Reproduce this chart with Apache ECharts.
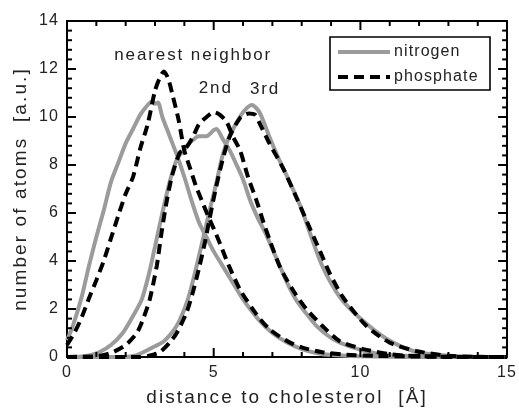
<!DOCTYPE html>
<html><head><meta charset="utf-8">
<script src="https://cdn.jsdelivr.net/npm/echarts@6/dist/echarts.min.js"></script>
<style>html,body{margin:0;padding:0;background:#fff}#c{width:519px;height:412px}</style>
</head><body><div id="c"></div>
<script>
// ---- data ----
const xRange = [0, 15];
const yRange = [0, 14];
const xMajorStep = 5, xMinorStep = 1;
const yMajorStep = 2, yMinorStep = 0.4;
const nitrogenNearest = [[0,0.7],[0.2,1.3],[0.5,2.5],[0.75,3.8],[1.0,5.0],[1.25,6.1],[1.5,7.3],[1.75,8.1],[2.0,8.9],[2.25,9.5],[2.5,10.1],[2.75,10.5],[2.9,10.65],[3.0,10.55],[3.1,10.6],[3.25,10.0],[3.5,9.2],[3.75,8.4],[4.0,7.5],[4.25,6.5],[4.5,5.6],[4.75,5.0],[5.0,4.4],[5.25,3.9],[5.5,3.4],[5.75,2.9],[6.0,2.4],[6.5,1.6],[7.0,1.0],[7.5,0.6],[8.0,0.33],[8.5,0.17],[9.0,0.08],[10.0,0.03],[11.0,0.01],[12,0],[15,0]];
const nitrogenSecond = [[0,0],[0.5,0.02],[0.8,0.08],[1.1,0.2],[1.5,0.5],[1.9,1.0],[2.2,1.6],[2.55,2.4],[2.8,3.5],[3.0,4.6],[3.25,6.0],[3.5,7.3],[3.75,8.25],[4.0,8.65],[4.25,9.0],[4.5,9.2],[4.75,9.2],[5.0,9.45],[5.1,9.5],[5.3,9.1],[5.55,8.6],[5.8,7.95],[6.0,7.4],[6.25,6.5],[6.5,5.8],[6.75,5.2],[7.0,4.5],[7.25,3.8],[7.5,3.1],[7.8,2.4],[8.1,1.9],[8.5,1.3],[9.0,0.8],[9.5,0.5],[10.0,0.3],[10.5,0.16],[11.0,0.08],[12.0,0.02],[13,0],[15,0]];
const nitrogenThird = [[0,0],[2.0,0],[2.3,0.05],[2.6,0.2],[3.0,0.45],[3.3,0.65],[3.74,1.3],[4.12,2.4],[4.42,3.8],[4.65,5.0],[4.9,6.3],[5.1,7.3],[5.3,8.4],[5.5,9.1],[5.75,9.7],[6.0,10.2],[6.3,10.5],[6.56,10.2],[6.9,9.17],[7.24,8.2],[7.6,7.26],[8.0,6.15],[8.27,5.2],[8.7,3.8],[9.3,2.5],[10.0,1.6],[10.9,0.75],[11.8,0.25],[12.5,0.1],[13.5,0.02],[14.5,0],[15,0]];
const phosphateNearest = [[0,0.5],[0.25,1.0],[0.5,1.65],[0.75,2.45],[1.0,3.2],[1.25,4.0],[1.5,4.95],[1.75,5.9],[2.0,6.8],[2.25,7.5],[2.5,8.7],[2.75,9.7],[3.0,11.1],[3.15,11.6],[3.3,11.9],[3.45,11.6],[3.6,10.9],[3.8,9.9],[4.0,8.6],[4.2,7.85],[4.4,7.1],[4.6,6.5],[4.8,5.9],[5.0,5.35],[5.2,4.77],[5.5,3.85],[5.9,2.8],[6.3,2.05],[6.6,1.55],[6.9,1.16],[7.25,0.85],[7.6,0.6],[8.0,0.4],[8.7,0.2],[9.5,0.1],[10.5,0.05],[12,0.02],[13,0],[15,0]];
const phosphateSecond = [[0,0],[1.0,0.03],[1.3,0.1],[1.57,0.2],[2.0,0.5],[2.38,1.0],[2.6,1.6],[2.82,2.4],[3.06,3.8],[3.2,5.0],[3.37,6.3],[3.57,7.5],[3.84,8.5],[4.05,8.7],[4.29,9.17],[4.5,9.7],[4.76,10.0],[5.0,10.2],[5.2,10.1],[5.44,9.8],[5.65,9.2],[5.9,8.6],[6.17,7.5],[6.45,6.55],[6.7,5.6],[6.9,4.9],[7.24,3.8],[7.5,3.2],[7.8,2.6],[8.16,2.0],[8.7,1.3],[9.3,0.66],[10.1,0.33],[11.0,0.12],[11.5,0.06],[12.5,0.02],[13.5,0],[15,0]];
const phosphateThird = [[0,0],[2.5,0],[2.8,0.05],[3.16,0.2],[3.5,0.6],[3.74,1.0],[4.08,1.87],[4.29,2.7],[4.52,3.8],[4.7,4.77],[4.85,5.7],[5.05,6.9],[5.3,8.2],[5.54,9.17],[5.9,9.96],[6.2,10.15],[6.4,10.1],[6.56,9.75],[6.9,8.9],[7.35,7.9],[7.8,6.7],[8.3,5.3],[8.7,4.2],[8.95,3.5],[9.4,2.5],[10.2,1.3],[11.0,0.6],[11.9,0.25],[13.0,0.05],[14.0,0.01],[15,0]];
const annotations = [
  {text: 'nearest neighbor', x: 4.3, y: 12.55},
  {text: '2nd', x: 5.07, y: 11.2},
  {text: '3rd', x: 6.75, y: 11.15}
];
const legendNames = ['nitrogen', 'phosphate'];
const xName = 'distance to cholesterol  [Å]';
const yName = 'number of atoms  [a.u.]';

// wide letter spacing like the reference typography (depends on font size)
(function(){
  const proto = CanvasRenderingContext2D.prototype;
  const orig = proto.fillText;
  const spacing = {15: '0.8px', 16: '1.1px', 17: '1.9px', 19: '2.1px'};
  proto.fillText = function(t, x, y, m){
    if ('letterSpacing' in this) {
      const mm = /(\d+)px/.exec(this.font || '');
      this.letterSpacing = (mm && spacing[mm[1]]) || '0px';
    }
    return m === undefined ? orig.call(this, t, x, y) : orig.call(this, t, x, y, m);
  };
})();

const FONT = 'Liberation Sans, Arial, sans-serif';
const TXT = '#222';
const GRAY = '#9b9b9b';
const LW = 4;
const DASH = [10, 6];

function axisCommon(show){
  return {
    type: 'value',
    axisLine: {show: true, onZero: false, lineStyle: {color: '#000', width: 2}},
    axisTick: {show: false},
    minorTick: {show: false},
    splitLine: {show: false},
    axisLabel: {show: show, color: TXT, fontSize: 16, fontFamily: FONT, margin: 8}
  };
}

const chart = echarts.init(document.getElementById('c'), null, {renderer: 'canvas'});
function lineSeries(name, data, dashed){
  return {
    name: name, type: 'line', data: data, showSymbol: false, symbol: 'none', smooth: 0.25,
    animation: false, z: dashed ? 3 : 2,
    lineStyle: dashed ? {color: '#000', width: LW, type: DASH, cap: 'butt'} : {color: GRAY, width: LW}
  };
}
const option = {
  animation: false,
  backgroundColor: '#fff',
  grid: {left: 67, right: 11, top: 21, bottom: 54, containLabel: false},
  xAxis: [
    Object.assign(axisCommon(true), {min: xRange[0], max: xRange[1], interval: xMajorStep, position: 'bottom',
      name: xName, nameLocation: 'middle', nameGap: 31,
      nameTextStyle: {color: TXT, fontSize: 19, fontFamily: FONT}}),
    Object.assign(axisCommon(false), {min: xRange[0], max: xRange[1], interval: xMajorStep, position: 'top'})
  ],
  yAxis: [
    Object.assign(axisCommon(true), {min: yRange[0], max: yRange[1], interval: yMajorStep, position: 'left',
      name: yName, nameLocation: 'middle', nameGap: 37,
      nameTextStyle: {color: TXT, fontSize: 19, fontFamily: FONT}}),
    Object.assign(axisCommon(false), {min: yRange[0], max: yRange[1], interval: yMajorStep, position: 'right'})
  ],
  series: [
    lineSeries('nitrogen', nitrogenNearest, false),
    lineSeries('nitrogen', nitrogenSecond, false),
    lineSeries('nitrogen', nitrogenThird, false),
    lineSeries('phosphate', phosphateNearest, true),
    lineSeries('phosphate', phosphateSecond, true),
    lineSeries('phosphate', phosphateThird, true)
  ]
};
chart.setOption(option);

(function buildOverlay(){
  const X = v => Number(chart.convertToPixel({xAxisIndex: 0}, v));
  const Y = v => Number(chart.convertToPixel({yAxisIndex: 0}, v));
  const graphics = annotations.map(a => ({type: 'text', x: X(a.x), y: Y(a.y), z: 10,
    style: {text: a.text, fill: TXT, font: '17px ' + FONT, textAlign: 'center', textVerticalAlign: 'middle'}}));

  // inside ticks on all four sides, positioned through the axes' scales (small filled bars)
  const MAJ = 9, MIN = 5, TW = 2;
  const gL = X(xRange[0]), gR = X(xRange[1]), gB = Y(yRange[0]), gT = Y(yRange[1]);
  const bar = (x, y, w, h) => ({type: 'rect', z: 30, silent: true,
    shape: {x: x, y: y, width: w, height: h}, style: {fill: '#000'}});
  const nx = Math.round((xRange[1] - xRange[0]) / xMinorStep);
  for (let i = 1; i < nx; i++) {
    const v = xRange[0] + i * xMinorStep;
    const len = (Math.abs(v / xMajorStep - Math.round(v / xMajorStep)) < 1e-6) ? MAJ : MIN;
    const px = X(v);
    graphics.push(bar(px - TW / 2, gB - len, TW, len));
    graphics.push(bar(px - TW / 2, gT, TW, len));
  }
  const ny = Math.round((yRange[1] - yRange[0]) / yMinorStep);
  for (let i = 1; i < ny; i++) {
    const v = yRange[0] + i * yMinorStep;
    const len = (Math.abs(v / yMajorStep - Math.round(v / yMajorStep)) < 1e-6) ? MAJ : MIN;
    const py = Y(v);
    graphics.push(bar(gL, py - TW / 2, len, TW));
    graphics.push(bar(gR - len, py - TW / 2, len, TW));
  }

  // legend box (layout only)
  const LB = {x: 330, y: 37, w: 160, h: 53};
  graphics.push({type: 'rect', z: 20, shape: {x: LB.x, y: LB.y, width: LB.w, height: LB.h},
    style: {fill: '#fff', stroke: '#000', lineWidth: 1.6}});
  legendNames.forEach((n, i) => {
    const cy = LB.y + 15 + i * 25;
    graphics.push({type: 'line', z: 21, shape: {x1: LB.x + 8, y1: cy, x2: LB.x + 60, y2: cy},
      style: i === 0 ? {stroke: GRAY, lineWidth: LW} : {stroke: '#000', lineWidth: LW, lineDash: DASH}});
    graphics.push({type: 'text', z: 21, x: LB.x + 64, y: cy,
      style: {text: n, fill: TXT, font: '16px ' + FONT, textAlign: 'left', textVerticalAlign: 'middle'}});
  });
  chart.setOption({graphic: graphics});
})();
</script>
</body></html>
